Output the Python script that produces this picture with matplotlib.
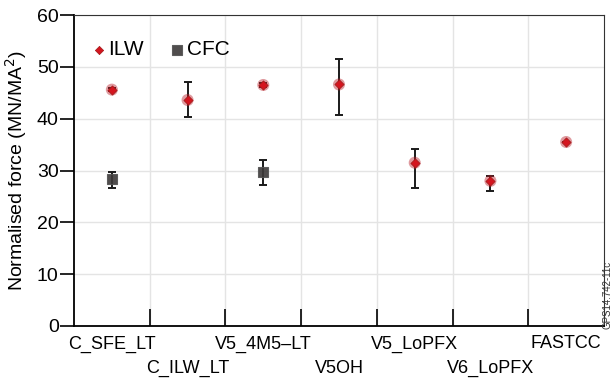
import numpy as np
import matplotlib.pyplot as plt

plt.rcParams['font.family'] = ['Liberation Sans', 'DejaVu Sans']

# categories and values
cases = ['C_SFE_LT', 'C_ILW_LT', 'V5_4M5\u2013LT', 'V5OH', 'V5_LoPFX', 'V6_LoPFX', 'FASTCC']
ilw = [45.6, 43.6, 46.5, 46.6, 31.5, 28.0, 35.5]
ilw_lo = [0.3, 3.3, 0.3, 5.8, 4.9, 1.9, 0.0]
ilw_hi = [0.3, 3.4, 0.3, 4.9, 2.7, 1.0, 0.0]
cfc_idx = [0, 2]
cfc = [28.3, 29.8]
cfc_lo = [1.7, 2.6]
cfc_hi = [1.5, 2.2]

fig = plt.figure(figsize=(6.14, 3.83), dpi=100)
ax = fig.add_axes([74/614, 57/383, 530/614, 311/383])

x = np.arange(len(cases))
ax.errorbar(x, ilw, yerr=[ilw_lo, ilw_hi], fmt='none', ecolor='#1a1a1a',
            elinewidth=1.4, capsize=3, capthick=1.4, zorder=3)
ax.errorbar(cfc_idx, cfc, yerr=[cfc_lo, cfc_hi], fmt='none', ecolor='#1a1a1a',
            elinewidth=1.4, capsize=3, capthick=1.4, zorder=3)
ax.scatter(x, ilw, s=75, color='#b8202a', alpha=0.45, edgecolors='none', zorder=4)
ax.scatter(x, ilw, s=22, marker='D', color='#d4151f', edgecolors='#a01818',
           linewidths=0.5, zorder=5, label='ILW')
ax.scatter(cfc_idx, cfc, s=60, marker='s', color='#3d3a3a', alpha=0.9,
           edgecolors='#555', linewidths=0.8, zorder=5, label='CFC')

ax.set_xlim(-0.5, 6.5)
ax.set_ylim(0, 60)
ax.set_yticks(range(0, 61, 10))
ax.tick_params(axis='y', direction='out', length=10, width=1.2, labelsize=14, pad=1)

# boundaries between cases: ticks pointing up, light grid
bounds = np.arange(0.5, 6.5, 1)
ax.set_xticks(bounds)
ax.set_xticklabels([])
ax.tick_params(axis='x', direction='in', length=12, width=1.2)
ax.grid(True, color='#e4e4e4', linewidth=1)
ax.set_axisbelow(True)
for i, name in enumerate(cases):
    off = -0.03 if i % 2 == 0 else -0.11
    ax.text(i, off, name, transform=ax.get_xaxis_transform(), ha='center',
            va='top', fontsize=13)

for s in ['top', 'right']:
    ax.spines[s].set_color('#333333')
for s in ['left', 'bottom']:
    ax.spines[s].set_linewidth(1.3)

ax.set_ylabel('Normalised force (MN/MA$^2$)', fontsize=14, labelpad=6)

ax.legend(loc='upper left', frameon=False, fontsize=15, handlelength=0.6,
          handletextpad=0.15, columnspacing=1.3, ncol=2, markerscale=0.9,
          borderaxespad=0.5, bbox_to_anchor=(0.0, 0.98))

fig.text(0.997, 0.23, 'GPS14.742-11c', rotation=90, fontsize=7, ha='right',
         va='center', color='#333333')

fig.savefig('out.png', dpi=100)
